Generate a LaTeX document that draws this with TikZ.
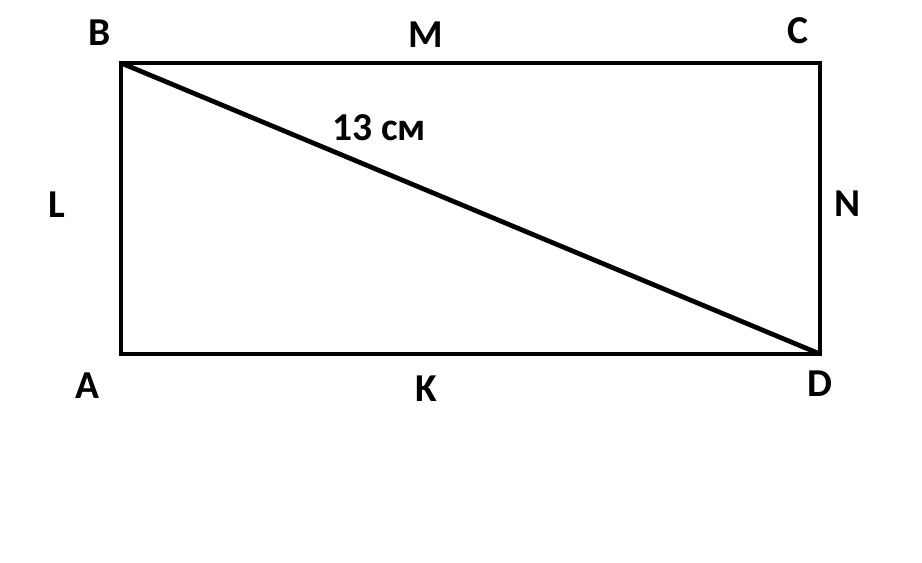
\documentclass[tikz,border=0pt]{standalone}
\usepackage{fontspec}
\setmainfont{Carlito}
\begin{document}
\begin{tikzpicture}[x=0.02cm,y=0.02cm, font=\bfseries\fontsize{22.5}{26}\selectfont, line join=miter, line cap=butt]
	\useasboundingbox (0,0) rectangle (922,562);
	\path
	(121,208)coordinate(A)
	(121,499)coordinate(B)
	(820,499)coordinate(C)
	(820,208)coordinate(D)
	;
	\draw[line width=2.7pt] (A)--(B)--(C)--(D)--cycle;
	\draw[line width=2.7pt] (B)--(D);
	\foreach \x/\px/\py in {B/100/529,M/426/527,C/798/531,L/57/357,N/848/358,A/87/176,K/426/173,D/820/178} \node (l\x) at (\px,\py) {\x};
	\node (len) at (379,434) {13 см};
\end{tikzpicture}
\end{document}
